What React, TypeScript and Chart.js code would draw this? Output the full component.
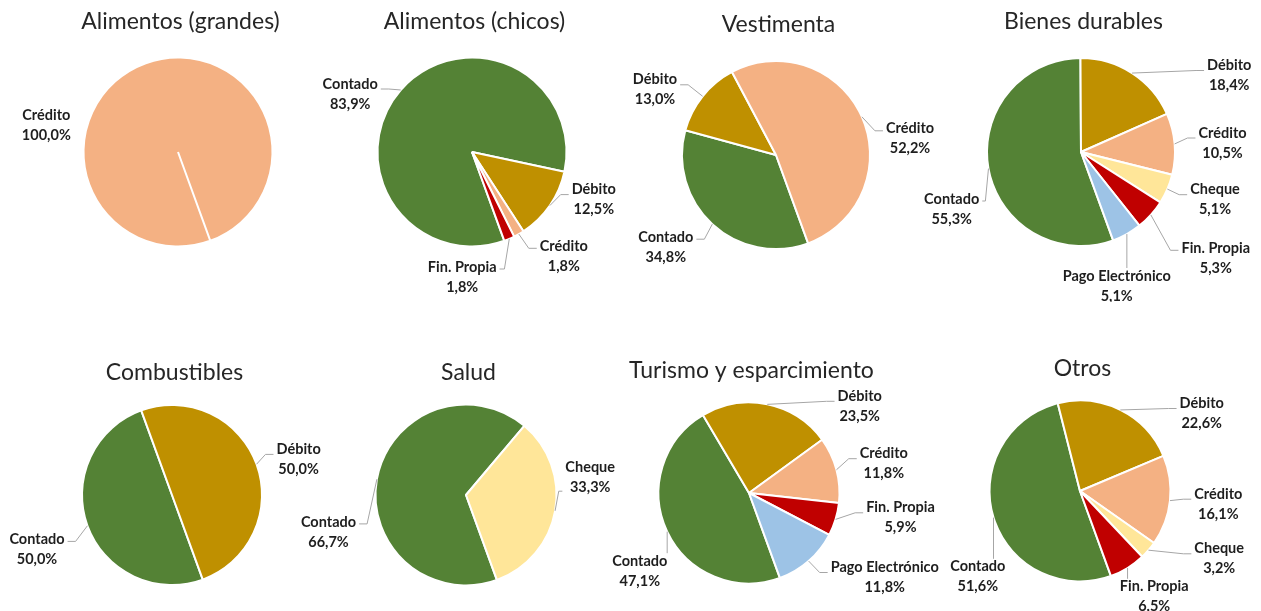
import React, { useEffect, useRef } from "react";
import { Chart, registerables } from "chart.js";

Chart.register(...registerables);

// ---------- DATA ----------
const alimentosGrandesLabels = ["Crédito"];
const alimentosGrandesValues = [100.0];

const alimentosChicosLabels = ["Contado", "Débito", "Crédito", "Fin. Propia"];
const alimentosChicosValues = [83.9, 12.5, 1.8, 1.8];

const vestimentaLabels = ["Contado", "Débito", "Crédito"];
const vestimentaValues = [34.8, 13.0, 52.2];

const bienesDurablesLabels = ["Contado", "Débito", "Crédito", "Cheque", "Fin. Propia", "Pago Electrónico"];
const bienesDurablesValues = [55.3, 18.4, 10.5, 5.1, 5.3, 5.1];

const combustiblesLabels = ["Contado", "Débito"];
const combustiblesValues = [50.0, 50.0];

const saludLabels = ["Contado", "Cheque"];
const saludValues = [66.7, 33.3];

const turismoLabels = ["Contado", "Débito", "Crédito", "Fin. Propia", "Pago Electrónico"];
const turismoValues = [47.1, 23.5, 11.8, 5.9, 11.8];

const otrosLabels = ["Contado", "Débito", "Crédito", "Cheque", "Fin. Propia"];
const otrosValues = [51.6, 22.6, 16.1, 3.2, 6.5];

const chartTitles = [
  "Alimentos (grandes)",
  "Alimentos (chicos)",
  "Vestimenta",
  "Bienes durables",
  "Combustibles",
  "Salud",
  "Turismo y esparcimiento",
  "Otros",
];

// ---------- STYLE ----------
const SLICE_COLORS: Record<string, string> = {
  "Contado": "#548235",
  "Débito": "#BF9000",
  "Crédito": "#F4B183",
  "Cheque": "#FFE699",
  "Fin. Propia": "#C00000",
  "Pago Electrónico": "#9DC3E6",
};

const FIRST_SLICE_ANGLE = 160;
const TITLE_FONT = "23px Lato";
const LABEL_FONT = "bold 14.5px Lato";
const TITLE_COLOR = "#262626";
const LABEL_COLOR = "#1e1e1e";
const LEADER_COLOR = "#A6A6A6";
const LINE_GAP = 20;
const CANVAS_W = 440;
const CANVAS_H = 300;

// ---------- LAYOUT (pie centre, radius, title offset, label offsets from centre) ----------
type Layout = {
  cx: number;
  cy: number;
  r: number;
  titleDy: number;
  leader: boolean;
  labelOffsets: [number, number][];
};

const layouts: Layout[] = [
  { cx: 177.5, cy: 152, r: 94.5, titleDy: -131, leader: false, labelOffsets: [[-131.7, -27]] },
  { cx: 471.5, cy: 152, r: 94.5, titleDy: -131, leader: true, labelOffsets: [[-121.8, -58], [121.8, 47.6], [91.8, 104.3], [-9.8, 125]] },
  { cx: 776, cy: 154.5, r: 94, titleDy: -131, leader: true, labelOffsets: [[-110.2, 92.2], [-121, -65.2], [134, -16.2]] },
  { cx: 1081, cy: 152, r: 94, titleDy: -131, leader: true, labelOffsets: [[-129.3, 57], [148.2, -76.5], [141.5, -9], [134, 47.7], [134.8, 106.3], [35.7, 134]] },
  { cx: 171.7, cy: 495.3, r: 90, titleDy: -123, leader: true, labelOffsets: [[-135, 54.4], [126.6, -35.6]] },
  { cx: 465.8, cy: 495.3, r: 90.5, titleDy: -123, leader: true, labelOffsets: [[-137.5, 36.9], [124.2, -17.8]] },
  { cx: 748.5, cy: 493, r: 90.5, titleDy: -123, leader: true, labelOffsets: [[-109.2, 78.2], [110.7, -86.7], [134.8, -29.3], [151.5, 24.8], [135.7, 84.5]] },
  { cx: 1080, cy: 490.5, r: 90.5, titleDy: -123, leader: true, labelOffsets: [[-102.2, 85.8], [121.7, -77.5], [138.3, 13.2], [139.2, 67.8], [74.2, 105.8]] },
];

const seriesLabels = [
  alimentosGrandesLabels,
  alimentosChicosLabels,
  vestimentaLabels,
  bienesDurablesLabels,
  combustiblesLabels,
  saludLabels,
  turismoLabels,
  otrosLabels,
];
const seriesValues = [
  alimentosGrandesValues,
  alimentosChicosValues,
  vestimentaValues,
  bienesDurablesValues,
  combustiblesValues,
  saludValues,
  turismoValues,
  otrosValues,
];

function fmtPct(v: number): string {
  return v.toFixed(1).replace(".", ",") + "%";
}

function makeLabelPlugin(title: string, labels: string[], values: number[], layout: Layout) {
  return {
    id: "pieLabels",
    afterDraw(chart: any) {
      const ctx: CanvasRenderingContext2D = chart.ctx;
      const meta = chart.getDatasetMeta(0);
      ctx.save();
      if (meta.data.length) {
        const c = meta.data[0];
        ctx.font = TITLE_FONT;
        ctx.fillStyle = TITLE_COLOR;
        ctx.textAlign = "center";
        ctx.textBaseline = "alphabetic";
        ctx.fillText(title, c.x + 2.5, c.y + layout.titleDy + 8.3);
      }
      meta.data.forEach((arc: any, i: number) => {
        const { x, y, startAngle, endAngle, outerRadius } = arc.getProps(
          ["x", "y", "startAngle", "endAngle", "outerRadius"],
          true
        );
        const mid = (startAngle + endAngle) / 2;
        const px = x + Math.cos(mid) * outerRadius;
        const py = y + Math.sin(mid) * outerRadius;
        const [dx, dy] = layout.labelOffsets[i];
        const lx = x + dx;
        const ly = y + dy;
        const line1 = labels[i];
        const line2 = fmtPct(values[i]);
        ctx.font = LABEL_FONT;
        const w = Math.max(ctx.measureText(line1).width, ctx.measureText(line2).width);
        const x0 = lx - w / 2;
        const x1 = lx + w / 2;
        const y0 = ly - LINE_GAP;
        const y1 = ly + LINE_GAP;

        if (layout.leader) {
          ctx.strokeStyle = LEADER_COLOR;
          ctx.lineWidth = 1;
          ctx.beginPath();
          const ay = py < y0 ? ly - 8 : py > y1 ? ly + 14 : ly - 5;
          if (px > x1 + 6) {
            const ax = x1 + 3;
            const stub = Math.min(8, (px - ax) / 2);
            ctx.moveTo(ax, ay);
            ctx.lineTo(ax + stub, ay);
            ctx.lineTo(px, py);
          } else if (px < x0 - 6) {
            const ax = x0 - 3;
            const stub = Math.min(8, (ax - px) / 2);
            ctx.moveTo(ax, ay);
            ctx.lineTo(ax - stub, ay);
            ctx.lineTo(px, py);
          } else if (py < y0) {
            ctx.moveTo(px, y0 + 2);
            ctx.lineTo(px, py);
          } else if (py > y1) {
            ctx.moveTo(px, y1 - 2);
            ctx.lineTo(px, py);
          }
          ctx.stroke();
        }

        ctx.fillStyle = LABEL_COLOR;
        ctx.textAlign = "center";
        ctx.textBaseline = "middle";
        ctx.fillText(line1, lx, ly - LINE_GAP / 2);
        ctx.fillText(line2, lx, ly + LINE_GAP / 2);
      });
      ctx.restore();
    },
  };
}

function PieCanvas({ index }: { index: number }) {
  const ref = useRef<HTMLCanvasElement>(null);
  const layout = layouts[index];
  const labels = seriesLabels[index];
  const values = seriesValues[index];
  const left = Math.round(layout.cx - CANVAS_W / 2);
  const top = Math.round(layout.cy - CANVAS_H / 2);

  useEffect(() => {
    const canvas = ref.current;
    if (!canvas) return;
    const chart = new Chart(canvas, {
      type: "pie",
      data: {
        labels,
        datasets: [
          {
            data: values,
            backgroundColor: labels.map((l) => SLICE_COLORS[l]),
            borderColor: "#ffffff",
            borderWidth: 2,
            radius: layout.r,
          } as any,
        ],
      },
      options: {
        responsive: false,
        animation: false,
        rotation: FIRST_SLICE_ANGLE,
        events: [],
        layout: { padding: 0 },
        plugins: {
          legend: { display: false },
          tooltip: { enabled: false },
          title: { display: false },
        },
      },
      plugins: [makeLabelPlugin(chartTitles[index], labels, values, layout)],
    });
    return () => chart.destroy();
  }, [index]);

  return (
    <canvas
      ref={ref}
      width={CANVAS_W}
      height={CANVAS_H}
      style={{ position: "absolute", left, top, width: CANVAS_W, height: CANVAS_H }}
    />
  );
}

export default function App() {
  return (
    <div
      style={{
        position: "fixed",
        left: 0,
        top: 0,
        width: 1261,
        height: 611,
        overflow: "hidden",
        background: "#ffffff",
      }}
    >
      {layouts.map((_, i) => (
        <PieCanvas key={i} index={i} />
      ))}
    </div>
  );
}
